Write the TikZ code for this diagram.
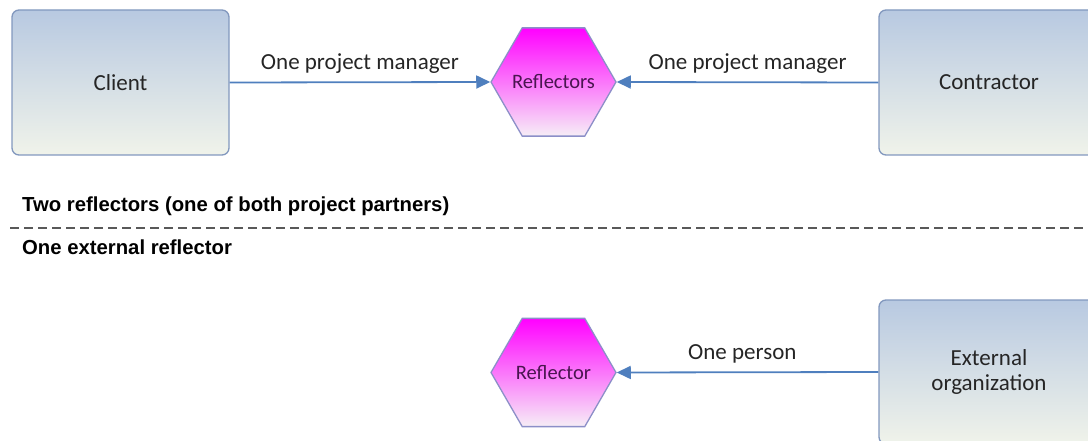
\documentclass[tikz,border=0pt]{standalone}
\usepackage{fontspec}
\setmainfont{Carlito}
\newfontfamily\secfont{Liberation Sans}
\usetikzlibrary{shapes.geometric,arrows.meta}
\definecolor{boxtop}{HTML}{B8C9E1}
\definecolor{boxbot}{HTML}{F0F3EA}
\definecolor{boxline}{HTML}{8298BE}
\definecolor{arrowc}{HTML}{4F7FBE}
\definecolor{hexline}{HTML}{8C8FC8}
\definecolor{hexbot}{HTML}{F6EEF6}
\definecolor{txt}{HTML}{252525}
\definecolor{hextxt}{HTML}{4A1550}
\begin{document}
\begin{tikzpicture}[x=1pt,y=-1pt,
  partybox/.style={draw=boxline,line width=1.3pt,rounded corners=7pt,top color=boxtop,bottom color=boxbot,
    minimum width=217pt,minimum height=145pt,inner sep=0pt,font=\fontsize{23}{27}\selectfont,text=txt,align=center},
  hexnode/.style={regular polygon,regular polygon sides=6,minimum size=125pt,inner sep=0pt,draw=hexline,line width=1.3pt,
    top color=magenta,bottom color=hexbot},
  hextext/.style={font=\fontsize{20.5}{24}\selectfont,text=hextxt,inner sep=0pt},
  conn/.style={draw=arrowc,line width=1.8pt,-{Triangle[length=14pt,width=13pt]}},
  lbl/.style={font=\fontsize{23}{27}\selectfont,text=txt,inner sep=0pt},
  sec/.style={font=\secfont\bfseries\fontsize{20.3}{24}\selectfont,text=black,anchor=west,inner sep=0pt}]
\useasboundingbox (0,0) rectangle (1088,441);
\clip (0,0) rectangle (1088,441);
\node[partybox] (client) at (120.5,82.5) {Client};
\node[partybox,minimum width=220pt] (contractor) at (989,82.5) {Contractor};
\node[hexnode] (refl) at (553.5,82) {};
\node[hextext] (refltxt) at (refl.center) {Reflectors};
\node[partybox,minimum width=220pt,minimum height=144pt] (ext) at (989,372) {External\\[-2pt]organization};
\node[hexnode] (refl2) at (553.5,372.5) {};
\node[hextext] (refl2txt) at (refl2.center) {Reflector};
\draw[conn] (client.east) -- (refl.west) node[lbl,pos=0.5,above=8pt] (l1) {One project manager};
\draw[conn] (contractor.west) -- (refl.east) node[lbl,pos=0.5,above=8pt] (l2) {One project manager};
\draw[conn] (ext.west) -- (refl2.east) node[lbl,pos=0.52,above=8pt] (l3) {One person};
\node[sec] (s1) at (22,206) {Two reflectors (one of both project partners)};
\node[sec] (s2) at (22,247) {One external reflector};
\coordinate (d1) at (10,228);
\coordinate (d2) at (1088,228);
\draw[draw=black!65,line width=1.5pt,dash pattern=on 9pt off 5pt] (d1) -- (d2);
\end{tikzpicture}
\end{document}
